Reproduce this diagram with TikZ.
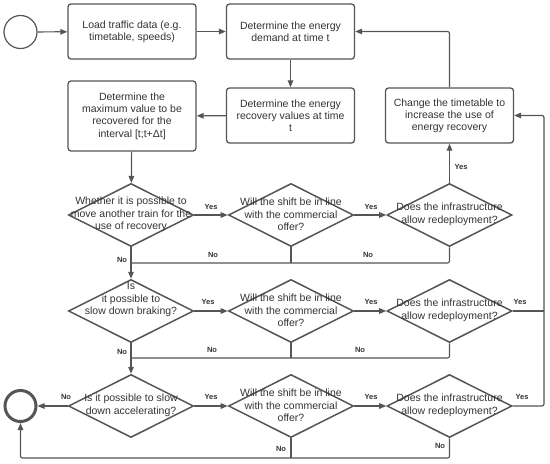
\documentclass[tikz,border=0pt]{standalone}
\usepackage{fontspec}
\setmainfont{Liberation Sans}
\usetikzlibrary{shapes.geometric,arrows.meta}
\definecolor{ln}{HTML}{555555}
\definecolor{tx}{HTML}{333333}
\tikzset{
  box/.style={draw=ln, line width=1.3pt, rounded corners=3pt, minimum width=128pt, minimum height=55pt, inner sep=0pt, align=center, text=tx, font=\fontsize{10.5}{12.2}\selectfont},
  dia/.style={draw=ln, line width=1.5pt, diamond, minimum width=125pt, minimum height=63pt, inner sep=0pt},
  dtext/.style={align=center, text=tx, font=\fontsize{10.5}{12.5}\selectfont, inner sep=0pt},
  conn/.style={draw=ln, line width=1.2pt, rounded corners=2pt},
  arr/.style={conn, -{Triangle[length=7pt,width=5.5pt]}},
  lab/.style={text=tx, font=\fontsize{7.5}{8}\selectfont\bfseries, inner sep=0pt},
}
\begin{document}
\begin{tikzpicture}[x=1pt,y=-1pt]
\useasboundingbox (0,0) rectangle (550,464);
% events
\node[circle, draw=ln, line width=1.2pt, minimum size=33pt, inner sep=0pt] (start) at (20.5,32) {};
\node[circle, draw=ln, line width=3pt, minimum size=31pt, inner sep=0pt] (end) at (20.5,406) {};
% boxes
\node[box] (b1) at (132,31.5) {Load traffic data (e.g.\\timetable, speeds)};
\node[box] (b2) at (290.5,31.5) {Determine the energy\\demand at time t};
\node[box] (b3) at (290.5,115.5) {Determine the energy\\recovery values at time\\t};
\node[box, minimum height=70pt] (b4) at (132,116) {Determine the\\maximum value to be\\recovered for the\\interval [t;t+Δt]};
\node[box] (b5) at (449.5,115.5) {Change the timetable to\\increase the use of\\energy recovery};
% diamonds
\node[dia] (d11) at (131,215) {};
\node[dia] (d12) at (291,215) {};
\node[dia] (d13) at (449.5,215) {};
\node[dia] (d21) at (131,311) {};
\node[dia] (d22) at (291,311) {};
\node[dia] (d23) at (449.5,311) {};
\node[dia] (d31) at (131,406) {};
\node[dia] (d32) at (291,406) {};
\node[dia] (d33) at (449.5,406) {};
% diamond texts
\node[dtext] (t11) at (131,214.5) {Whether it is possible to\\move another train for the\\use of recovery};
\node[dtext] (t12) at (291,214.5) {Will the shift be in line\\with the commercial\\offer?};
\node[dtext] (t13) at (449.5,214.5) {Does the infrastructure\\allow redeployment?};
\node[dtext] (t21) at (131,299.5) {Is\\it possible to\\slow down braking?};
\node[dtext] (t22) at (291,310.5) {Will the shift be in line\\with the commercial\\offer?};
\node[dtext] (t23) at (449.5,310.5) {Does the infrastructure\\allow redeployment?};
\node[dtext] (t31) at (131,405.5) {Is it possible to slow\\down accelerating?};
\node[dtext] (t32) at (291,405.5) {Will the shift be in line\\with the commercial\\offer?};
\node[dtext] (t33) at (449.5,405.5) {Does the infrastructure\\allow redeployment?};
% junction coordinates
\coordinate (j1) at (131,263);
\coordinate (j2) at (131,358);
\coordinate (j3) at (20.5,458);
\coordinate (r2) at (544,311);
\coordinate (r3) at (544,406);
% top chain
\draw[arr] (start) -- (b1);
\draw[arr] (b1) -- (b2);
\draw[arr] (b2) -- (b3);
\draw[arr] (b3) -- (b4);
\draw[arr] (b4) -- (d11);
\draw[arr] (b5.north) |- (b2.east);
% row 1
\draw[arr] (d11) -- (d12);
\draw[arr] (d12) -- (d13);
\draw[arr] (d13) -- (b5);
\draw[arr] (d11) -- (d21);
\draw[conn] (d13.south) |- (j1);
\draw[conn] (d12.south) -- (d12.south |- j1);
% row 2
\draw[arr] (d21) -- (d22);
\draw[arr] (d22) -- (d23);
\draw[arr] (d21) -- (d31);
\draw[conn] (d23.south) |- (j2);
\draw[conn] (d22.south) -- (d22.south |- j2);
\draw[conn] (d23.east) -- (r2);
% row 3
\draw[arr] (d31) -- (d32);
\draw[arr] (d32) -- (d33);
\draw[arr] (d31) -- (end);
\draw[arr] (d33.east) -- (r3) |- (b5.east);
\draw[arr] (d33.south) |- (j3) -- (end);
\draw[conn] (d32.south) -- (d32.south |- j3);
% labels
\node[lab] (y11) at (211,207) {Yes};
\node[lab] (y12) at (371,207) {Yes};
\node[lab] (y13) at (461,167) {Yes};
\node[lab] (n11) at (122,260) {No};
\node[lab] (n12) at (213,255) {No};
\node[lab] (n13) at (368,255) {No};
\node[lab] (y21) at (208,302) {Yes};
\node[lab] (y22) at (371,302) {Yes};
\node[lab] (y23) at (520,302) {Yes};
\node[lab] (n21) at (122,352) {No};
\node[lab] (n22) at (212,350) {No};
\node[lab] (n23) at (360,350) {No};
\node[lab] (y31) at (211,397) {Yes};
\node[lab] (y32) at (371,397) {Yes};
\node[lab] (y33) at (522,397) {Yes};
\node[lab] (n31) at (66,397) {No};
\node[lab] (n32) at (281,449) {No};
\node[lab] (n33) at (440,446) {No};
\end{tikzpicture}
\end{document}
